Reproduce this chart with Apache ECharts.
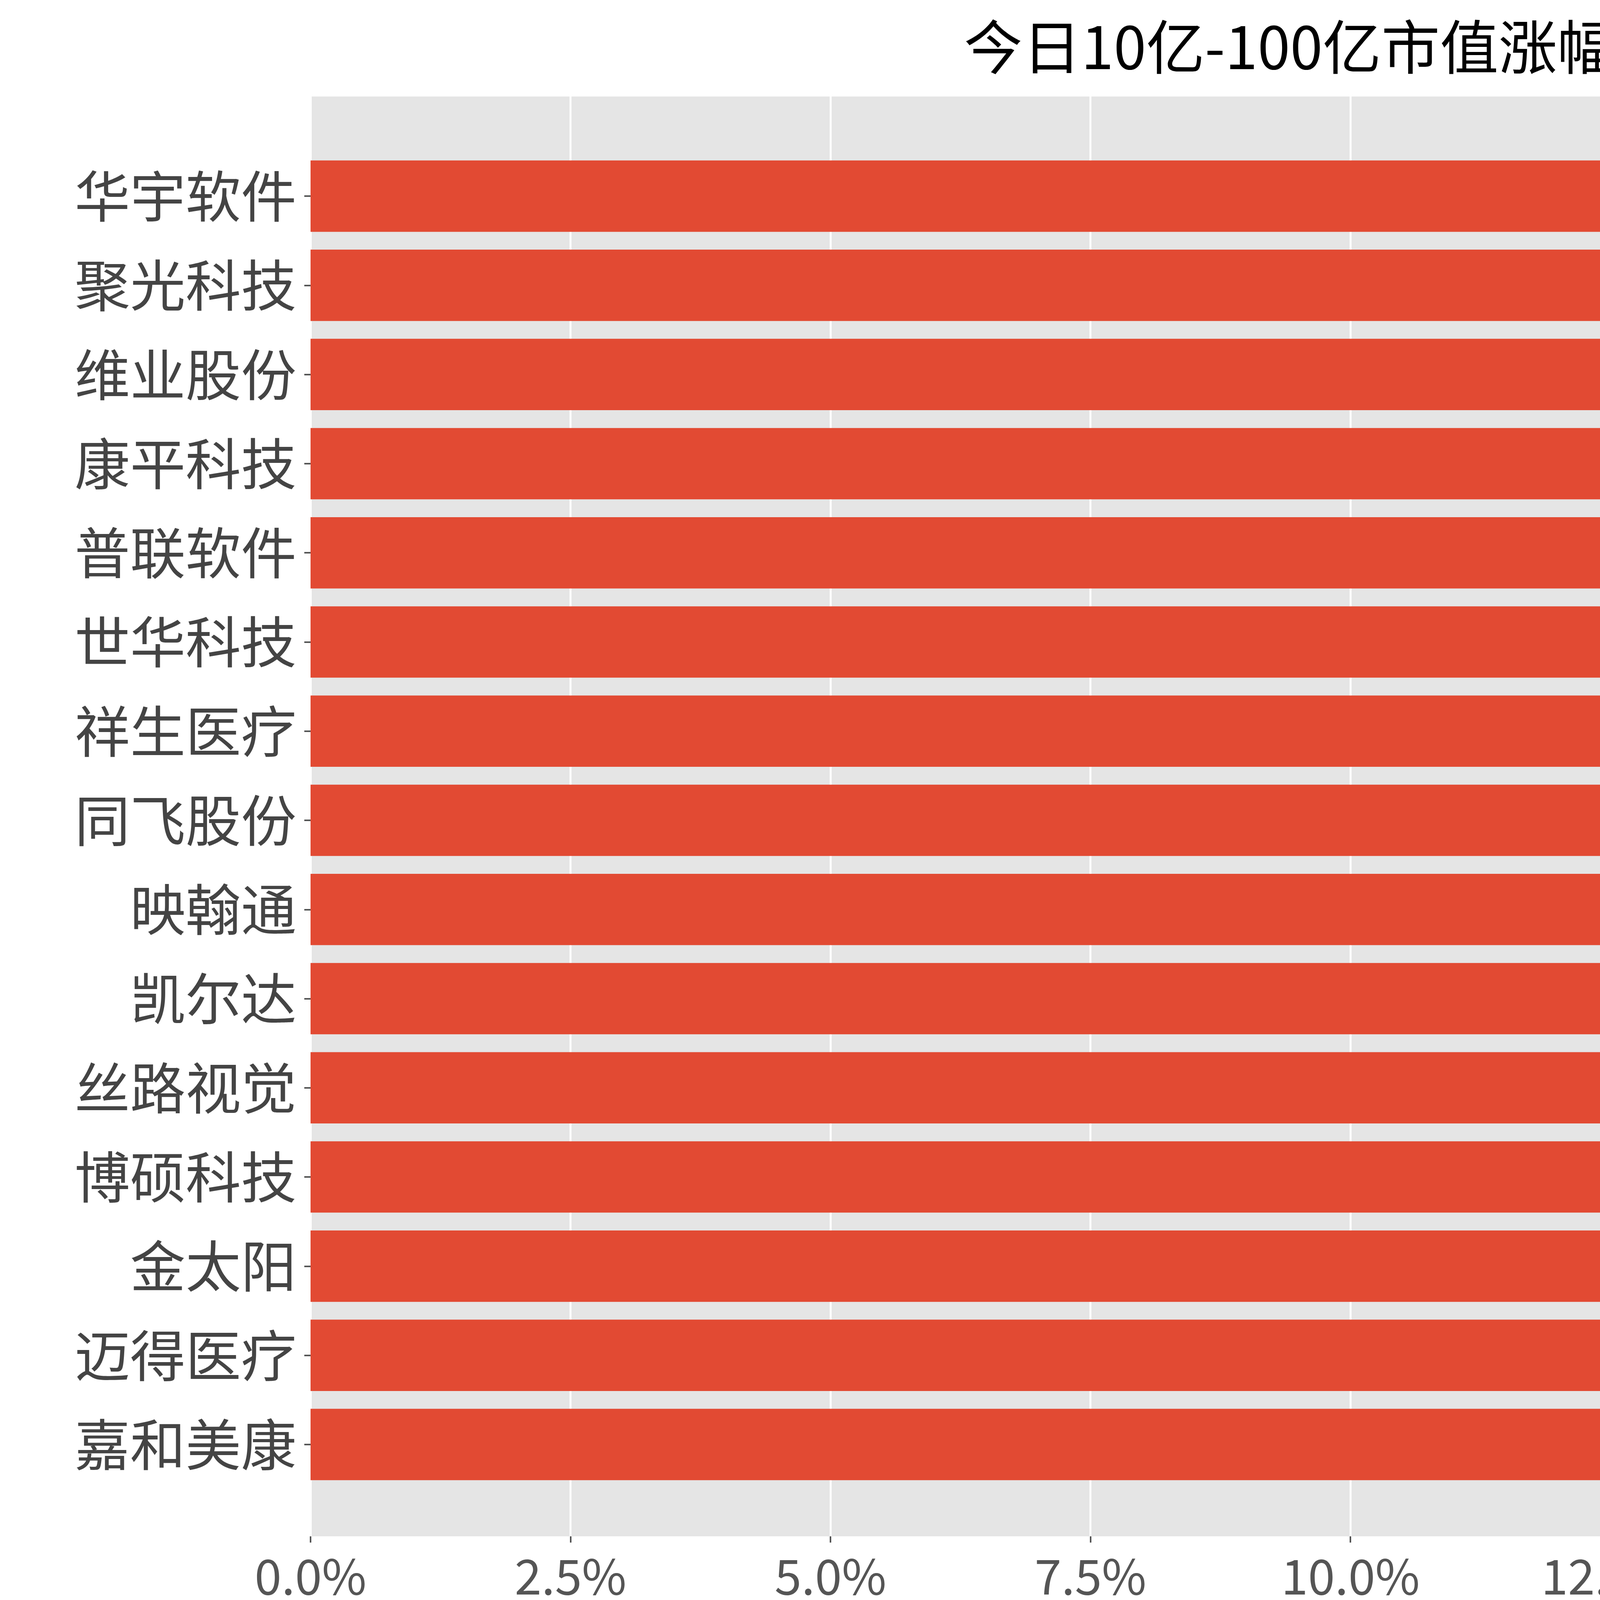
<!DOCTYPE html>
<html><head><meta charset="utf-8">
<script src="https://cdn.jsdelivr.net/npm/echarts@6/dist/echarts.min.js"></script>
<style>html,body{margin:0;padding:0;background:#fff}#c{width:6424px;height:4318px}</style>
</head><body><div id="c"></div>
<script>
const categories = ['华宇软件','聚光科技','维业股份','康平科技','普联软件','世华科技','祥生医疗','同飞股份','映翰通','凯尔达','丝路视觉','博硕科技','金太阳','迈得医疗','嘉和美康'];
const values = [20.04,20.03,20.03,20.03,20.03,20.02,20.02,20.02,20.02,20.015,20.015,20.01,20.01,20.01,20.01];
const xTicks = [0,2.5,5,7.5,10,12.5,15,17.5,20];

const font = 'Noto Sans CJK SC';
const L = 795, R = 6424-6391, T = 247, B = 4318-3933;
const chart = echarts.init(document.getElementById('c'));
chart.setOption({
  animation:false,
  backgroundColor:'#fff',
  title:{text:'今日10亿-100亿市值涨幅TOP股票',left:3593,top:40,textAlign:'center',
    textStyle:{fontFamily:font,fontSize:150,fontWeight:'normal',color:'#000'}},
  grid:[
    {left:L,right:R,top:T,bottom:B,show:true,backgroundColor:'#E5E5E5',borderWidth:0},
    {left:L,right:R,top:388,bottom:4318-3812}
  ],
  xAxis:[
    {gridIndex:0,type:'value',min:0,max:21.02,interval:2.5,
      axisLine:{show:false},
      axisTick:{show:true,length:16,lineStyle:{color:'#555',width:4}},
      splitLine:{show:true,lineStyle:{color:'#fff',width:5}},
      axisLabel:{showMaxLabel:false,margin:40,fontFamily:font,fontSize:124,color:'#555',
        formatter:v=>v.toFixed(1)+'%'},
      name:'今日涨幅',nameLocation:'middle',nameGap:290,
      nameTextStyle:{fontFamily:font,fontSize:76,color:'#555'}},
    {gridIndex:1,type:'value',min:0,max:21.02,show:false}
  ],
  yAxis:[
    {gridIndex:0,type:'value',show:false,min:0,max:1},
    {gridIndex:1,type:'category',inverse:true,data:categories,
      axisLine:{show:false},
      axisTick:{show:true,alignWithLabel:true,length:16,lineStyle:{color:'#555',width:4}},
      splitLine:{show:false},
      axisLabel:{margin:36,fontFamily:font,fontSize:142,color:'#444'}}
  ],
  series:[
    {type:'line',xAxisIndex:1,yAxisIndex:1,data:[],z:1,silent:true,
      markLine:{z:1,symbol:'none',silent:true,label:{show:false},
        lineStyle:{color:'#fff',width:5,type:'solid'},
        data:categories.map(c=>({yAxis:c}))}},
    {type:'bar',xAxisIndex:1,yAxisIndex:1,data:values,barCategoryGap:'20%',z:3,
      itemStyle:{color:'#E24A33'}}
  ]
});
</script></body></html>
